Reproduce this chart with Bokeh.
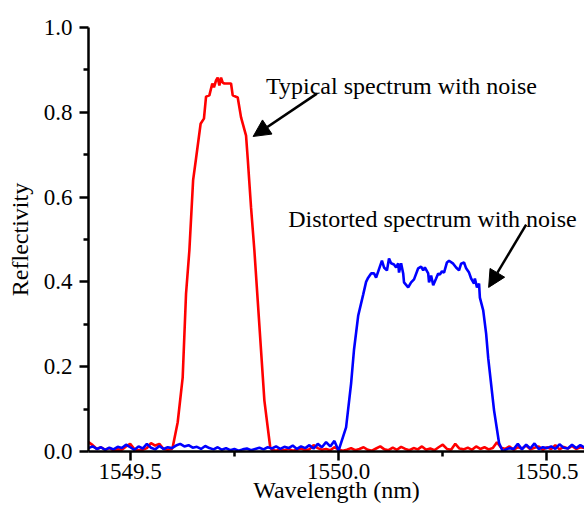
import numpy as np
from bokeh.plotting import figure
from bokeh.models import (Range1d, FixedTicker, NumeralTickFormatter, Label,
                          Arrow, NormalHead)
from bokeh.embed import file_html
from bokeh.resources import INLINE

# ---------------- data ----------------
# red: typical spectrum
red_base1_wl = np.round(np.arange(1549.40, 1549.605, 0.01), 3)
red_base1 = [0.022, 0.015, 0.006, 0.010, 0.004, 0.008, 0.003, 0.005, 0.004, 0.012,
             0.018, 0.006, 0.003, 0.004, 0.008, 0.020, 0.014, 0.018, 0.006, 0.004,
             0.006]
red_peak_wl = [1549.602, 1549.614, 1549.626, 1549.634, 1549.642, 1549.651, 1549.658,
               1549.669, 1549.677, 1549.682, 1549.690, 1549.697, 1549.701, 1549.706,
               1549.710, 1549.714, 1549.718, 1549.722, 1549.726, 1549.738, 1549.742,
               1549.746, 1549.758, 1549.766, 1549.778, 1549.782, 1549.790, 1549.798,
               1549.806, 1549.814, 1549.822, 1549.830, 1549.836]
red_peak = [0.010, 0.069, 0.175, 0.372, 0.474, 0.640, 0.691,
            0.773, 0.785, 0.837, 0.840, 0.868, 0.859, 0.875,
            0.882, 0.863, 0.882, 0.870, 0.868, 0.868, 0.868,
            0.840, 0.835, 0.788, 0.745, 0.691, 0.575, 0.474,
            0.356, 0.238, 0.120, 0.057, 0.010]
red_base2_wl = np.round(np.arange(1549.84, 1550.595, 0.01), 3)
red_base2 = [0.004, 0.002, 0.005, 0.003, 0.006, 0.002, 0.004, 0.007, 0.003, 0.005,
             0.015, 0.008, 0.004, 0.006, 0.003, 0.010, 0.005, 0.002, 0.004, 0.008,
             0.003, 0.006, 0.010, 0.004, 0.002, 0.007, 0.012, 0.005, 0.003, 0.009,
             0.004, 0.011, 0.006, 0.003, 0.008, 0.005, 0.012, 0.004, 0.007, 0.003,
             0.010, 0.016, 0.006, 0.004, 0.018, 0.007, 0.005, 0.009, 0.004, 0.012,
             0.006, 0.010, 0.005, 0.008, 0.022, 0.009, 0.006, 0.012, 0.004, 0.010,
             0.007, 0.014, 0.005, 0.009, 0.012, 0.004, 0.010, 0.006, 0.015, 0.005,
             0.011, 0.007, 0.013, 0.006, 0.010, 0.008]

# blue: distorted spectrum
blue_base1_wl = np.round(np.arange(1549.40, 1550.005, 0.01), 3)
blue_base1 = [0.008, 0.012, 0.006, 0.010, 0.004, 0.009, 0.005, 0.011, 0.008, 0.016,
              0.010, 0.004, 0.012, 0.007, 0.018, 0.009, 0.005, 0.013, 0.006, 0.010,
              0.008, 0.014, 0.018, 0.012, 0.015, 0.009, 0.011, 0.006, 0.013, 0.008,
              0.005, 0.010, 0.004, 0.008, 0.003, 0.006, 0.002, 0.005, 0.007, 0.003,
              0.006, 0.009, 0.005, 0.010, 0.007, 0.012, 0.006, 0.011, 0.008, 0.014,
              0.006, 0.012, 0.008, 0.015, 0.007, 0.018, 0.010, 0.022, 0.012, 0.025,
              0.002]
blue_peak_wl = [1550.018, 1550.030, 1550.037, 1550.047, 1550.059, 1550.066, 1550.071,
                1550.078, 1550.085, 1550.090, 1550.097, 1550.104, 1550.109, 1550.116,
                1550.121, 1550.126, 1550.133, 1550.138, 1550.143, 1550.145, 1550.150,
                1550.155, 1550.157, 1550.167, 1550.174, 1550.181, 1550.191, 1550.198,
                1550.203, 1550.207, 1550.215, 1550.217, 1550.222, 1550.227, 1550.234,
                1550.239, 1550.243, 1550.248, 1550.253, 1550.260, 1550.265, 1550.275,
                1550.282, 1550.289, 1550.294, 1550.301, 1550.306, 1550.313, 1550.318,
                1550.325, 1550.327, 1550.332, 1550.337, 1550.339, 1550.347, 1550.354,
                1550.359, 1550.373, 1550.385, 1550.394]
blue_peak = [0.057, 0.160, 0.240, 0.320, 0.370, 0.400, 0.410,
             0.420, 0.420, 0.410, 0.430, 0.450, 0.434, 0.427,
             0.455, 0.444, 0.441, 0.434, 0.444, 0.422, 0.444,
             0.420, 0.399, 0.387, 0.399, 0.406, 0.432, 0.436,
             0.427, 0.434, 0.420, 0.399, 0.415, 0.392, 0.408,
             0.420, 0.417, 0.425, 0.422, 0.446, 0.450, 0.443,
             0.434, 0.427, 0.443, 0.446, 0.432, 0.422, 0.408,
             0.396, 0.408, 0.387, 0.396, 0.363, 0.333, 0.278,
             0.220, 0.097, 0.020, 0.000]
blue_base2_wl = np.round(np.arange(1550.40, 1550.595, 0.01), 3)
blue_base2 = [0.004, 0.008, 0.006, 0.018, 0.005, 0.016, 0.007, 0.019, 0.006, 0.010,
              0.008, 0.012, 0.006, 0.017, 0.009, 0.007, 0.016, 0.008, 0.015, 0.009]

red_wl = np.concatenate([red_base1_wl, red_peak_wl, red_base2_wl])
red_r = np.concatenate([red_base1, red_peak, red_base2])
blue_wl = np.concatenate([blue_base1_wl, blue_peak_wl, blue_base2_wl])
blue_r = np.concatenate([blue_base1, blue_peak, blue_base2])

x_ticks = [1549.5, 1550.0, 1550.5]
x_minor = [1549.75, 1550.25]
y_ticks = [0.0, 0.2, 0.4, 0.6, 0.8, 1.0]
y_minor = [0.1, 0.3, 0.5, 0.7, 0.9]

FONT = "Liberation Serif"

p = figure(width=584, height=508, output_backend="svg", toolbar_location=None,
           x_range=Range1d(1549.40, 1550.59), y_range=Range1d(0.0, 1.0),
           min_border_left=88, min_border_right=0, min_border_top=27,
           min_border_bottom=57)
p.outline_line_color = None
p.xgrid.visible = False
p.ygrid.visible = False
p.background_fill_color = "white"
p.border_fill_color = "white"

p.line(red_wl, red_r, color="#ff0000", line_width=2.6)
p.line(blue_wl, blue_r, color="#0000ff", line_width=2.6)

for ax in (p.xaxis[0], p.yaxis[0]):
    ax.axis_line_width = 2.5
    ax.axis_line_color = "black"
    ax.major_tick_line_width = 2.5
    ax.minor_tick_line_width = 2.5
    ax.major_tick_in = 0
    ax.major_tick_out = 9
    ax.minor_tick_in = 0
    ax.minor_tick_out = 5
    ax.major_label_text_font = FONT
    ax.major_label_text_font_size = "23px"
    ax.major_label_text_color = "black"
    ax.axis_label_text_font = FONT
    ax.axis_label_text_font_size = "24px"
    ax.axis_label_text_font_style = "normal"
    ax.axis_label_text_color = "black"
    ax.formatter = NumeralTickFormatter(format="0.0")

p.xaxis.ticker = FixedTicker(ticks=x_ticks, minor_ticks=x_minor)
p.yaxis.ticker = FixedTicker(ticks=y_ticks, minor_ticks=y_minor)
p.xaxis.major_label_standoff = 3
p.xaxis.axis_label = "Wavelength (nm)"
p.xaxis.axis_label_standoff = -5
p.yaxis.major_label_standoff = 7
p.yaxis.axis_label = "Reflectivity"
p.yaxis.axis_label_standoff = 8

p.add_layout(Label(x=1549.826, y=0.863, text="Typical spectrum with noise",
                   text_align="left", text_baseline="alphabetic",
                   text_font=FONT, text_font_size="24px", text_color="black"))
p.add_layout(Label(x=1549.879, y=0.5495, text="Distorted spectrum with noise",
                   text_align="left", text_baseline="alphabetic",
                   text_font=FONT, text_font_size="24px", text_color="black"))

p.add_layout(Arrow(end=NormalHead(size=17, fill_color="black", line_color="black"),
                   x_start=1549.948, y_start=0.844, x_end=1549.795, y_end=0.743,
                   line_width=2.5, line_color="black"))
p.add_layout(Arrow(end=NormalHead(size=17, fill_color="black", line_color="black"),
                   x_start=1550.450, y_start=0.535, x_end=1550.360, y_end=0.387,
                   line_width=2.5, line_color="black"))

open("out.html", "w").write(file_html(p, INLINE))
